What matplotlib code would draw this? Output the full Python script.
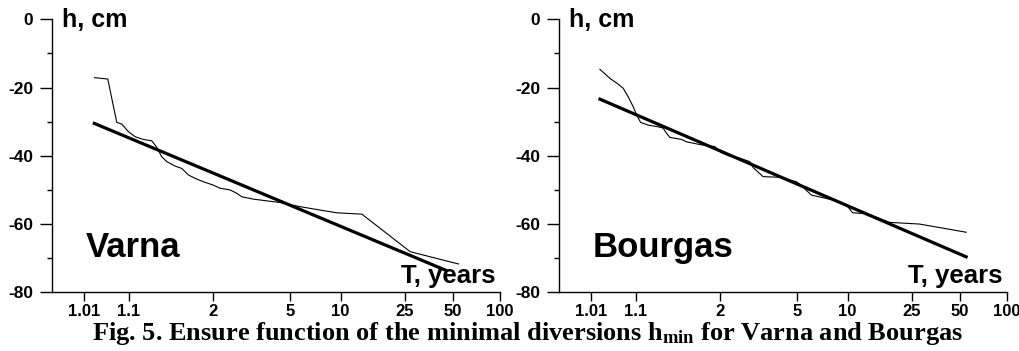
import numpy as np
import matplotlib
matplotlib.use('Agg')
import matplotlib.pyplot as plt
from matplotlib.ticker import FixedLocator, NullLocator

plt.rcParams['font.family'] = ['Liberation Sans', 'DejaVu Sans']
plt.rcParams['font.weight'] = 'bold'
plt.rcParams['axes.unicode_minus'] = False

# Return periods (years) and levels (cm)
varna_T = [1.0191, 1.0398, 1.0609, 1.0756, 1.0988, 1.1271, 1.1697, 1.2221,
           1.258, 1.2978, 1.342, 1.425, 1.502, 1.587, 1.684, 1.820, 2.011,
           2.157, 2.405, 2.595, 2.749, 3.156, 3.723, 4.411, 5.74, 7.53,
           9.49, 13.49, 26.97, 54.5]
varna_h = [-17.1, -17.5, -30.2, -30.7, -32.9, -34.4, -35.2, -35.6,
           -37.5, -40.3, -41.7, -43.0, -43.7, -45.6, -46.6, -47.6, -48.6,
           -49.5, -50.0, -51.0, -52.0, -52.7, -53.2, -53.7, -54.9, -55.9,
           -56.7, -57.1, -68.1, -71.7]
varna_fit_T = [1.019, 45.0]
varna_fit_h = [-30.5, -73.5]

bourgas_T = [1.0176, 1.0311, 1.0472, 1.0595, 1.0740, 1.0909, 1.1039, 1.1207,
             1.1579, 1.2183, 1.2538, 1.2802, 1.3075, 1.420, 1.476, 1.677,
             1.902, 2.036, 2.222, 2.480, 2.782, 2.891, 3.261, 4.016, 4.985,
             5.206, 6.083, 7.46, 8.55, 9.83, 10.74, 12.42, 15.01, 18.15,
             27.96, 55.1]
bourgas_h = [-14.65, -17.3, -19.0, -20.2, -22.7, -25.6, -28.0, -30.2,
             -31.0, -31.5, -31.9, -33.4, -34.6, -35.2, -35.9, -36.8,
             -37.3, -39.1, -40.1, -40.7, -41.7, -43.4, -46.1, -46.3, -47.6,
             -48.3, -51.5, -52.5, -53.2, -54.4, -56.7, -56.9, -58.0, -59.5,
             -60.0, -62.4]
bourgas_fit_T = [1.0176, 55.0]
bourgas_fit_h = [-23.4, -69.6]

xticks = [1.01, 1.1, 2, 5, 10, 25, 50, 100]
xticklabels = ['1.01', '1.1', '2', '5', '10', '25', '50', '100']
yticks = [0, -20, -40, -60, -80]
yminor = [-10, -30, -50, -70]


# Gumbel probability scale for the return period
def gumbel(T):
    T = np.asarray(T, dtype=float)
    with np.errstate(all='ignore'):
        return -np.log(-np.log(1.0 - 1.0 / T))


def gumbel_inv(u):
    u = np.asarray(u, dtype=float)
    with np.errstate(all='ignore'):
        return 1.0 / (1.0 - np.exp(-np.exp(-u)))


fig = plt.figure(figsize=(10.2, 3.51), dpi=100)
ax1 = fig.add_axes([0.0513, 0.1672, 0.4389, 0.7778])
ax2 = fig.add_axes([0.5483, 0.1672, 0.4389, 0.7778])

panels = [
    (ax1, varna_T, varna_h, varna_fit_T, varna_fit_h, 'Varna'),
    (ax2, bourgas_T, bourgas_h, bourgas_fit_T, bourgas_fit_h, 'Bourgas'),
]

for ax, T, h, fT, fh, name in panels:
    ax.set_xscale('function', functions=(gumbel, gumbel_inv))
    ax.plot(T, h, color='black', lw=0.8)
    ax.plot(fT, fh, color='black', lw=2.3)
    ax.set_xlim(float(gumbel_inv(-2.0)), 100)
    ax.set_ylim(-80, 0)

    ax.xaxis.set_major_locator(FixedLocator(xticks))
    ax.xaxis.set_minor_locator(NullLocator())
    ax.set_xticklabels(xticklabels)
    ax.yaxis.set_major_locator(FixedLocator(yticks))
    ax.yaxis.set_minor_locator(FixedLocator(yminor))
    ax.set_yticklabels([str(v) for v in yticks])

    for s in ['top', 'right']:
        ax.spines[s].set_visible(False)
    for s in ['left', 'bottom']:
        ax.spines[s].set_linewidth(1.0)

    ax.tick_params(axis='x', which='major', direction='out', length=6.7,
                   width=1.0, pad=2, labelsize=12)
    ax.tick_params(axis='y', which='major', direction='out', length=8.6,
                   width=1.0, pad=5, labelsize=12.5)
    ax.tick_params(axis='y', which='minor', direction='out', length=3.8,
                   width=1.0)
    for lab in ax.get_xticklabels() + ax.get_yticklabels():
        lab.set_fontweight('bold')

    ax.text(0.021, 0.971, 'h, cm', transform=ax.transAxes, fontsize=18,
            fontweight='bold', ha='left', va='baseline', clip_on=False)
    ax.text(0.99, 0.034, 'T, years', transform=ax.transAxes, fontsize=18.5,
            fontweight='bold', ha='right', va='baseline')
    ax.text(0.075, 0.131, name, transform=ax.transAxes, fontsize=25,
            fontweight='bold', ha='left', va='baseline')

fig.text(0.517, 0.031,
         r'Fig. 5. Ensure function of the minimal diversions '
         r'$\mathregular{h_{min}}$ for Varna and Bourgas',
         family=['Liberation Serif', 'DejaVu Serif'], fontweight='bold',
         fontsize=19, ha='center', va='baseline')

fig.savefig('out.png', dpi=100)
